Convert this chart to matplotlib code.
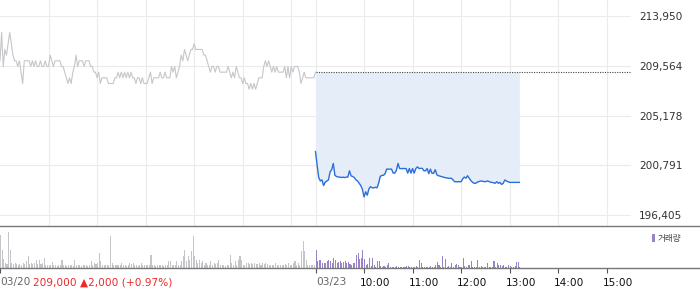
import matplotlib
matplotlib.use("Agg")
import matplotlib.pyplot as plt
from matplotlib.lines import Line2D
from matplotlib.patches import Rectangle

# --- data (2-minute samples, minutes from 03/20 09:00) ---
day1_price = [
    210000, 212500, 209500, 211000, 210500, 211500, 212500, 211500, 210500, 210000,
    210000, 209500, 210000, 209000, 208000, 210000, 210000, 210000, 210000, 209500,
    210000, 209500, 210000, 209500, 209500, 210000, 209500, 209500, 210000, 209500,
    209500, 210500, 210000, 209500, 210000, 210000, 210000, 210000, 209500, 209500,
    209000, 208500, 208000, 208500, 208000, 209000, 209500, 210500, 209500, 210000,
    210000, 210000, 209500, 210000, 210000, 210000, 209500, 209500, 209000, 209000,
    208500, 209000, 208000, 208500, 208500, 208500, 208500, 208000, 208000, 208000,
    208000, 208500, 208500, 209000, 208500, 209000, 208500, 209000, 208500, 209000,
    208500, 209000, 208500, 208500, 208000, 208500, 208500, 208000, 208500, 208000,
    208000, 208000, 208500, 209000, 208000, 208500, 208500, 208500, 208500, 209000,
    208500, 208500, 209000, 208500, 208500, 208500, 209500, 209000, 209500, 208500,
    209000, 209500, 210500, 210000, 211000, 210500, 210000, 210500, 211000, 211000,
    211500, 211000, 211000, 211000, 211000, 211000, 210500, 210500, 210000, 209500,
    209000, 209500, 209500, 209000, 209500, 209500, 209000, 209000, 209000, 209000,
    209000, 209500, 209000, 208500, 209000, 208500, 209500, 209000, 208500, 208500,
    208000, 208500, 208000, 208000, 207500, 208000, 207500, 208000, 207500, 208000,
    208500, 208500, 208500, 209500, 210000, 209500, 210000, 209500, 209000, 209500,
    209000, 209500, 209000, 209000, 209000, 209000, 209500, 208500, 209500, 208500,
    209500, 209000, 209500, 209500, 209500, 209000, 208000, 208500, 209000, 208500,
    208500, 208500, 208500, 208500, 208500, 209000,
]
day2_price = [
    202000, 200800, 199700, 199400, 199500, 199000, 199300, 199400, 199500, 200200,
    200400, 200950, 199900, 199800, 199750, 199750, 199700, 199750, 199700, 199750,
    199750, 200300, 199850, 199800, 199700, 199500, 199400, 199200, 199000, 198650,
    198000, 198450, 198150, 198700, 198900, 198800, 198800, 198850, 198800, 199200,
    199800, 199900, 199900, 200050, 200450, 200450, 200450, 200450, 200100, 200100,
    200350, 200950, 200500, 200500, 200500, 200500, 200500, 200100, 200500, 200100,
    200500, 200100, 200500, 200650, 200500, 200520, 200520, 200300, 200300, 200500,
    200050, 200450, 200080, 200080, 200400, 199950, 199870, 199830, 199780, 199750,
    199700, 199680, 199640, 199640, 199640, 199500, 199340, 199340, 199340, 199340,
    199340, 199600, 199750, 199650, 199870, 199640, 199450, 199300, 199200, 199200,
    199300, 199350, 199400, 199400, 199350, 199340, 199400, 199380, 199300, 199280,
    199250, 199200, 199340, 199200, 199280, 199100, 199200, 199490, 199400, 199340,
    199280, 199280, 199280, 199280, 199280, 199280, 199280,
]
day1_volume = [
    33, 18, 9, 5, 4, 36, 18, 5, 4, 5, 4, 3, 4, 3, 5, 4, 7, 12, 4, 5,
    4, 5, 8, 4, 8, 4, 5, 10, 3, 3, 3, 3, 6, 3, 3, 2, 3, 3, 8, 3,
    3, 2, 3, 3, 3, 2, 8, 3, 3, 3, 2, 3, 3, 3, 2, 3, 7, 3, 5, 4,
    5, 15, 7, 3, 3, 3, 3, 3, 32, 5, 3, 3, 3, 3, 3, 5, 3, 3, 2, 3,
    5, 4, 5, 3, 3, 2, 3, 5, 3, 3, 3, 3, 3, 13, 3, 3, 2, 3, 3, 3,
    3, 2, 3, 3, 7, 7, 3, 3, 3, 7, 3, 3, 7, 12, 18, 7, 12, 8, 17, 32,
    12, 8, 5, 8, 5, 7, 3, 5, 3, 3, 7, 3, 5, 4, 5, 8, 3, 3, 3, 2,
    3, 3, 13, 5, 3, 7, 3, 8, 12, 8, 3, 3, 5, 5, 4, 5, 4, 5, 4, 4,
    5, 3, 5, 4, 5, 4, 3, 3, 3, 3, 5, 3, 3, 3, 3, 3, 4, 3, 5, 3,
    3, 5, 7, 3, 5, 3, 17, 27, 17, 8, 3, 3, 3, 3, 3, 3,
]
day2_volume = [
    18, 7, 8, 8, 5, 5, 5, 7, 8, 7, 5, 10, 8, 5, 6, 7, 5, 6, 7, 5,
    6, 4, 3, 5, 5, 13, 15, 9, 10, 18, 9, 3, 4, 10, 2, 10, 3, 1, 7, 7,
    2, 1, 2, 1, 3, 5, 1, 1, 1, 1, 2, 1, 1, 1, 1, 1, 2, 2, 1, 1,
    1, 1, 2, 1, 8, 5, 1, 1, 1, 1, 1, 2, 1, 1, 3, 6, 3, 1, 12, 1,
    9, 1, 2, 1, 5, 1, 3, 4, 3, 1, 1, 10, 2, 1, 3, 3, 7, 1, 1, 1,
    8, 1, 2, 1, 1, 1, 5, 1, 1, 1, 7, 1, 5, 3, 3, 2, 3, 1, 1, 3,
    2, 1, 1, 2, 6, 6, 1,
]
prev_close = 209000
price_ticks = [196405, 200791.25, 205177.5, 209563.75, 213950]
price_tick_labels = ["196,405", "200,791", "205,178", "209,564", "213,950"]
grid_minutes = [60, 120, 180, 240, 300, 360, 390, 450, 510, 570, 630, 690, 750]
time_ticks = [450, 510, 570, 630, 690, 750]
time_labels = ["10:00", "11:00", "12:00", "13:00", "14:00", "15:00"]
change_text = "209,000 \u25b22,000 (+0.97%)"

STEP = 2
day1_t = [i * STEP for i in range(len(day1_price))]
day2_t = [390 + j * STEP for j in range(len(day2_price))]

W, H = 700, 289
fig = plt.figure(figsize=(W / 100, H / 100), dpi=100)

# price panel
ax = fig.add_axes([0, (H - 225.5) / H, 631 / W, 225.5 / H])
ax.set_xlim(0, 780)
ax.set_ylim(195479, 215361)
for s in ax.spines.values():
    s.set_visible(False)
for g in grid_minutes:
    ax.axvline(g, color="#ebebeb", lw=0.8, zorder=0)
for p in price_ticks:
    ax.axhline(p, color="#ebebeb", lw=0.8, zorder=0)

ax.plot(day1_t, day1_price, color="#c6c6cb", lw=0.8, zorder=3)
ax.fill_between(day2_t, day2_price, prev_close, color="#e5edf9", lw=0, zorder=1)
ax.plot([390, 780], [prev_close, prev_close], color="#444444", lw=0.8,
        ls=(0, (1, 1.2)), zorder=2)
ax.plot(day2_t, day2_price, color="#2a6fdb", lw=1.0, zorder=4)

ax.set_xticks([])
ax.yaxis.tick_right()
ax.set_yticks(price_ticks)
ax.set_yticklabels(price_tick_labels)
ax.tick_params(axis="y", length=0, pad=6, labelsize=7.6, labelcolor="#333333")

# volume panel
axv = fig.add_axes([0, 21 / H, 631 / W, 42 / H])
axv.set_xlim(0, 780)
axv.set_ylim(0, 42)
for s in axv.spines.values():
    s.set_visible(False)
axv.bar(day1_t, day1_volume, width=1.3, align="edge", color="#c4c4c9", lw=0)
axv.bar(day2_t, day2_volume, width=1.3, align="edge", color="#9883c8", lw=0)
axv.set_yticks([])
axv.set_xticks([0, 390] + time_ticks)
axv.set_xticklabels([])
axv.tick_params(axis="x", length=3.5, width=0.8, color="#555555", direction="out")

# separator lines across the full width
for yy in (1 - 225.5 / H, 21 / H):
    fig.add_artist(Line2D([0, 1], [yy, yy], transform=fig.transFigure,
                          color="#777777", lw=1.0))

# bottom labels
ty = (H - 282.5) / H
fig.text(0, ty, "03/20", fontsize=7.6, color="#666666", va="center", ha="left")
fig.text(33 / W, ty, change_text, fontsize=7.6, color="#f02828", va="center", ha="left")
fig.text(316.5 / W, ty, "03/23", fontsize=7.6, color="#666666", va="center", ha="left")
for t, lab in zip(time_ticks, time_labels):
    x_px = t * 631 / 780 - 4
    fig.text(x_px / W, ty, lab, fontsize=7.6, color="#111111", va="center", ha="left")

# volume legend
fig.add_artist(Rectangle((652 / W, (H - 242) / H), 2.5 / W, 8 / H,
                         transform=fig.transFigure, color="#9883c8", lw=0))
fig.text(657.5 / W, (H - 238) / H, "거래량", fontsize=6.2, color="#444444",
         va="center", ha="left", family=["Noto Sans CJK KR", "DejaVu Sans"])

fig.savefig("out.png", dpi=100)
